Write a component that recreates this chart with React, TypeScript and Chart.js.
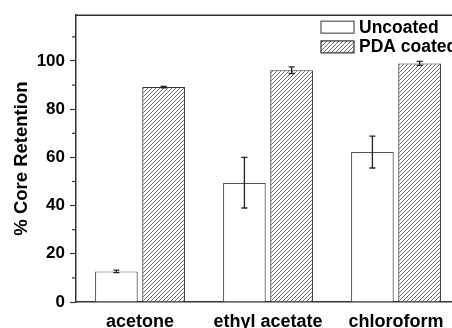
import React, { useEffect, useRef } from "react";
import { Chart, registerables } from "chart.js";

Chart.register(...registerables);

const categories = ["acetone", "ethyl acetate", "chloroform"];
const seriesNames = ["Uncoated", "PDA coated"];
const uncoatedValues = [12.7, 49.5, 62.2];
const uncoatedErrors = [0.5, 10.5, 6.6];
const coatedValues = [89.2, 96.2, 99.0];
const coatedErrors = [0.3, 1.4, 0.8];
const yTickValues = [0, 20, 40, 60, 80, 100];
const yTitle = "% Core Retention";

function makeHatch(): CanvasPattern | string {
  const c = document.createElement("canvas");
  c.width = 4;
  c.height = 4;
  const g = c.getContext("2d");
  if (!g) return "#ccc";
  g.fillStyle = "#ffffff";
  g.fillRect(0, 0, 4, 4);
  g.fillStyle = "#6a6a6a";
  for (let i = 0; i < 4; i++) g.fillRect(i, 3 - i, 1, 1);
  const p = g.createPattern(c, "repeat");
  return p || "#ccc";
}

const errorBarPlugin = {
  id: "errorBars",
  afterDatasetsDraw(chart: any) {
    const { ctx, scales } = chart;
    const y = scales.y;
    chart.data.datasets.forEach((ds: any, di: number) => {
      const meta = chart.getDatasetMeta(di);
      const errs: number[] = ds.errors || [];
      meta.data.forEach((el: any, i: number) => {
        const v = ds.data[i];
        const e = errs[i] || 0;
        const yTop = y.getPixelForValue(v + e);
        const yBot = y.getPixelForValue(v - e);
        const x = el.x;
        ctx.save();
        ctx.strokeStyle = "#222";
        ctx.lineWidth = 1.3;
        ctx.beginPath();
        ctx.moveTo(x, yTop);
        ctx.lineTo(x, yBot);
        ctx.moveTo(x - 3, yTop);
        ctx.lineTo(x + 3, yTop);
        ctx.moveTo(x - 3, yBot);
        ctx.lineTo(x + 3, yBot);
        ctx.stroke();
        ctx.restore();
      });
    });
  },
};

const frameAndTicksPlugin = {
  id: "frameTicks",
  afterDraw(chart: any) {
    const { ctx, chartArea, scales } = chart;
    const y = scales.y;
    ctx.save();
    ctx.strokeStyle = "#333";
    ctx.lineWidth = 1.5;
    ctx.beginPath();
    ctx.moveTo(chartArea.left, chartArea.top);
    ctx.lineTo(chartArea.right, chartArea.top);
    ctx.lineTo(chartArea.right, chartArea.bottom);
    ctx.stroke();
    ctx.lineWidth = 1.2;
    y.ticks.forEach((t: any) => {
      if (t.value % 20 !== 0) {
        const py = y.getPixelForValue(t.value);
        ctx.beginPath();
        ctx.moveTo(chartArea.left - 4, py);
        ctx.lineTo(chartArea.left, py);
        ctx.stroke();
      }
    });
    ctx.restore();
  },
};

const legendPlugin = {
  id: "customLegend",
  afterDraw(chart: any) {
    const { ctx, chartArea } = chart;
    const x0 = chartArea.right - 139;
    const y0 = chartArea.top + 6;
    ctx.save();
    chart.data.datasets.forEach((ds: any, i: number) => {
      const by = y0 + i * 19.7;
      ctx.fillStyle = ds.backgroundColor;
      ctx.fillRect(x0, by, 33, 12);
      ctx.strokeStyle = ds.borderColor;
      ctx.lineWidth = 1.2;
      ctx.strokeRect(x0, by, 33, 12);
      ctx.fillStyle = "#000";
      ctx.font = "bold 17.5px 'Liberation Sans', Arial, sans-serif";
      ctx.textBaseline = "middle";
      ctx.textAlign = "left";
      ctx.fillText(ds.label, x0 + 38, by + 6.5);
    });
    ctx.restore();
  },
};

export default function App() {
  const ref = useRef<HTMLCanvasElement | null>(null);
  useEffect(() => {
    if (!ref.current) return;
    const hatch = makeHatch();
    const chart = new Chart(ref.current, {
      type: "bar",
      data: {
        labels: categories,
        datasets: [
          {
            label: seriesNames[0],
            data: uncoatedValues,
            errors: uncoatedErrors,
            backgroundColor: "#ffffff",
            borderColor: "#555",
            borderWidth: 1.2,
            categoryPercentage: 0.7375,
            barPercentage: 0.905,
          } as any,
          {
            label: seriesNames[1],
            data: coatedValues,
            errors: coatedErrors,
            backgroundColor: hatch,
            borderColor: "#333",
            borderWidth: 1.2,
            categoryPercentage: 0.7375,
            barPercentage: 0.905,
          } as any,
        ],
      },
      options: {
        animation: false,
        responsive: false,
        maintainAspectRatio: false,
        layout: { padding: { top: 15, right: 20, left: 0, bottom: 0 } },
        plugins: {
          legend: { display: false },
          tooltip: { enabled: false },
        },
        scales: {
          x: {
            grid: { display: false, drawTicks: false },
            border: { color: "#333", width: 1.5 },
            ticks: {
              color: "#000",
              padding: 9,
              maxRotation: 0,
              font: { family: "'Liberation Sans', Arial, sans-serif", size: 18, weight: "bold" },
            },
            afterFit: (s: any) => {
              s.height = 26;
            },
          },
          y: {
            min: 0,
            max: 119,
            afterBuildTicks: (s: any) => {
              const t: any[] = [];
              for (let v = 0; v <= 110; v += 10) t.push({ value: v });
              s.ticks = t;
            },
            grid: {
              display: true,
              drawOnChartArea: false,
              drawTicks: true,
              tickLength: 6,
              tickWidth: 1.2,
              tickColor: (c: any) => (c.tick && c.tick.value % 20 === 0 ? "#333" : "rgba(0,0,0,0)"),
            },
            border: { color: "#333", width: 1.5 },
            ticks: {
              color: "#000",
              padding: 5,
              autoSkip: false,
              font: { family: "'Liberation Sans', Arial, sans-serif", size: 17, weight: "bold" },
              callback: (v: any) => (yTickValues.includes(Number(v)) ? String(v) : ""),
            },
            title: {
              display: true,
              text: yTitle,
              color: "#000",
              padding: { top: 11, bottom: 0 },
              font: { family: "'Liberation Sans', Arial, sans-serif", size: 18.5, weight: "bold" },
            },
            afterFit: (s: any) => {
              s.width = 76;
            },
          },
        },
      },
      plugins: [errorBarPlugin, frameAndTicksPlugin, legendPlugin],
    });
    return () => chart.destroy();
  }, []);
  return (
    <div style={{ position: "fixed", left: 0, top: 0, width: 452, height: 328, overflow: "hidden", background: "#fff" }}>
      <canvas ref={ref} width={480} height={328} style={{ display: "block", width: 480, height: 328 }} />
    </div>
  );
}
